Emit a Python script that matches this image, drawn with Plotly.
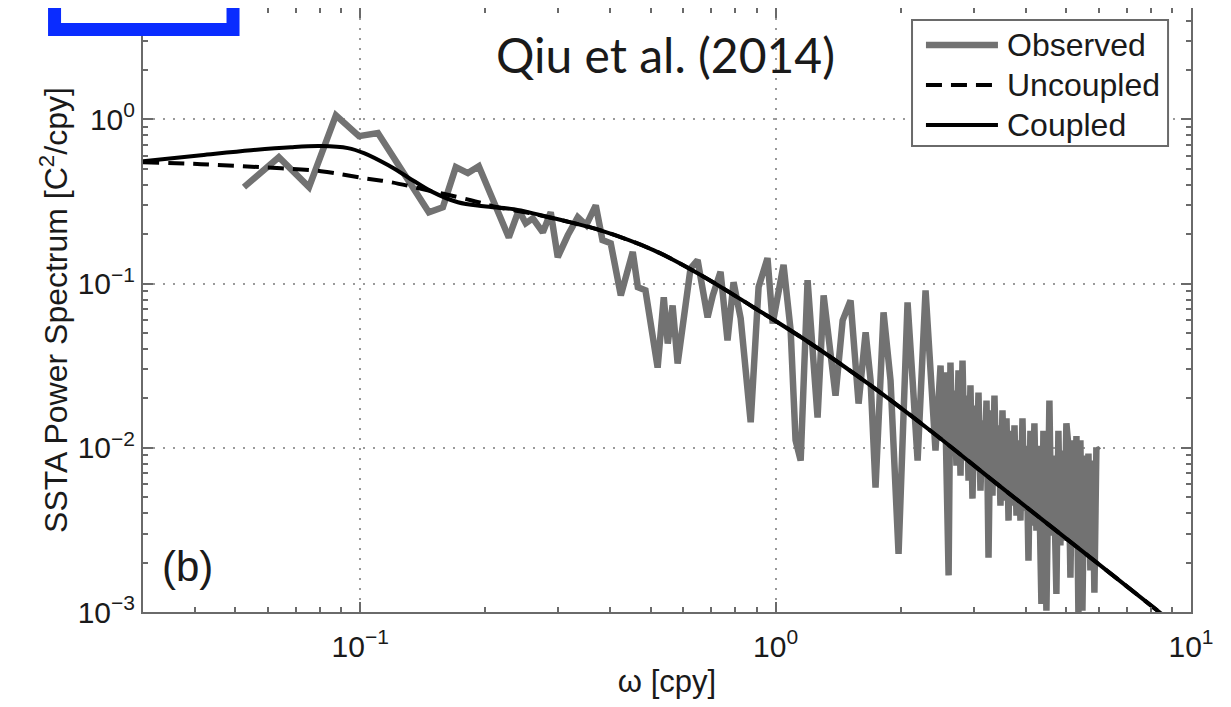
import plotly.graph_objects as go

# ---------------- data ----------------
obs_freq = [0.0525, 0.0637, 0.0753, 0.0874, 0.0993, 0.1103, 0.1463, 0.1581, 0.1699, 0.1816,
            0.1930, 0.2279, 0.2408, 0.2503, 0.2603, 0.2752, 0.2875, 0.2989, 0.316, 0.334,
            0.350, 0.369, 0.383, 0.401, 0.424, 0.453, 0.466, 0.486, 0.520, 0.538,
            0.550, 0.565, 0.581, 0.601, 0.624, 0.649, 0.686, 0.706, 0.737, 0.766,
            0.792, 0.824, 0.871, 0.910, 0.956, 0.984, 1.017, 1.045, 1.087, 1.117,
            1.149, 1.194, 1.228, 1.262, 1.305, 1.341, 1.394, 1.450, 1.515, 1.584,
            1.647, 1.693, 1.740, 1.819, 1.891, 1.977, 2.078, 2.137, 2.197, 2.296,
            2.360, 2.426,
            2.495, 2.523, 2.551, 2.580, 2.609, 2.636, 2.666, 2.695, 2.725, 2.756,
            2.787, 2.818, 2.850, 2.882, 2.914, 2.945, 2.978, 3.011, 3.045, 3.079,
            3.113, 3.148, 3.183, 3.219, 3.255, 3.290, 3.327, 3.364, 3.402, 3.440,
            3.478, 3.517, 3.556, 3.596, 3.637, 3.676, 3.717, 3.759, 3.801, 3.843,
            3.885, 3.929, 3.972, 4.017, 4.062, 4.106, 4.152, 4.198, 4.245, 4.293,
            4.364, 4.413, 4.487, 4.562, 4.613, 4.664, 4.742, 4.795, 4.848, 4.902,
            4.957, 5.012, 5.068, 5.125, 5.182, 5.240, 5.299, 5.357, 5.417, 5.478,
            5.539, 5.601, 5.664, 5.725, 5.789, 5.854, 5.919, 6.0]
obs_power = [0.387, 0.589, 0.387, 1.06, 0.791, 0.826, 0.272, 0.292, 0.512, 0.471,
             0.519, 0.191, 0.280, 0.233, 0.250, 0.205, 0.272, 0.145, 0.197, 0.254,
             0.227, 0.300, 0.184, 0.176, 0.0848, 0.156, 0.0952, 0.091, 0.0308, 0.0825,
             0.0432, 0.0736, 0.0326, 0.0640, 0.124, 0.139, 0.0623, 0.0848, 0.118, 0.0451,
             0.102, 0.0614, 0.0143, 0.0952, 0.143, 0.0572, 0.091, 0.130, 0.0519, 0.0111,
             0.00836, 0.105, 0.0392, 0.0153, 0.0848, 0.0451, 0.0208, 0.0597, 0.079, 0.0186,
             0.0505, 0.0257, 0.00572, 0.0668, 0.0257, 0.00226, 0.0768, 0.0257, 0.00836, 0.091,
             0.0257, 0.00962,
             0.0317, 0.0111, 0.0288, 0.00726, 0.00167, 0.0331, 0.00897, 0.0223, 0.00779, 0.0296,
             0.00677, 0.0340, 0.00836, 0.0208, 0.00631, 0.0240, 0.00490, 0.0181, 0.00726, 0.0217,
             0.00548, 0.0147, 0.00726, 0.0194, 0.00214, 0.0169, 0.00511, 0.0208, 0.00588, 0.0137,
             0.00444, 0.0169, 0.00476, 0.0151, 0.00360, 0.0127, 0.00444, 0.0137, 0.00386, 0.0111,
             0.00360, 0.0151, 0.00414, 0.0103, 0.00205, 0.0127, 0.00336, 0.0141, 0.00313, 0.0103,
             0.00112, 0.0127, 0.00102, 0.0194, 0.00292, 0.00897, 0.00129, 0.0127, 0.00254, 0.00962,
             0.00272, 0.0141, 0.0103, 0.00162, 0.0111, 0.00254, 0.0118, 0.00099, 0.0111, 0.00102,
             0.00897, 0.00220, 0.00922, 0.00179, 0.00836, 0.00131, 0.00992, 0.00962]

unc_freq = [0.03, 0.0414, 0.0577, 0.0804, 0.1021, 0.1185, 0.1377, 0.1846, 0.2144, 0.2574,
            0.321, 0.379, 0.508, 0.660, 0.886, 1.214, 1.693, 2.360, 3.478, 6.396, 8.43, 10.0]
unc_power = [0.549, 0.534, 0.512, 0.484, 0.439, 0.415, 0.382, 0.322, 0.292, 0.268,
             0.236, 0.211, 0.160, 0.113, 0.0716, 0.0432, 0.0240, 0.0127, 0.00580, 0.00172,
             0.00099, 0.00071]

cpl_freq = [0.03, 0.0414, 0.0546, 0.0681, 0.0804, 0.0934, 0.1021, 0.1166, 0.1302, 0.1479,
            0.1718, 0.1984, 0.2343, 0.2721, 0.321, 0.379, 0.508, 0.660, 0.886, 1.214,
            1.693, 2.360, 3.478, 6.396, 8.43, 10.0]
cpl_power = [0.557, 0.606, 0.650, 0.678, 0.688, 0.669, 0.623, 0.527, 0.445, 0.366,
             0.313, 0.296, 0.284, 0.261, 0.236, 0.211, 0.160, 0.113, 0.0716, 0.0432,
             0.0240, 0.0127, 0.00580, 0.00172, 0.00099, 0.00071]

series_names = ["Observed", "Uncoupled", "Coupled"]

x_tickvals = [0.1, 1, 10]
x_ticktext = ["10<sup>\u22121</sup>", "10<sup>0</sup>", "10<sup>1</sup>"]
y_tickvals = [0.001, 0.01, 0.1, 1]
y_ticktext = ["10<sup>\u22123</sup>", "10<sup>\u22122</sup>", "10<sup>\u22121</sup>", "10<sup>0</sup>"]
x_minor = [0.04, 0.05, 0.06, 0.07, 0.08, 0.09, 0.2, 0.3, 0.4, 0.5, 0.6, 0.7, 0.8, 0.9,
           2, 3, 4, 5, 6, 7, 8, 9]
y_minor = [0.002, 0.003, 0.004, 0.005, 0.006, 0.007, 0.008, 0.009,
           0.02, 0.03, 0.04, 0.05, 0.06, 0.07, 0.08, 0.09,
           0.2, 0.3, 0.4, 0.5, 0.6, 0.7, 0.8, 0.9, 2, 3, 4]

# ---------------- styles ----------------
FONT = "Liberation Sans, Arial, Helvetica, sans-serif"
TXT = "#1a1a1a"
AXC = "#6a6a6a"
OBS_C = "#727272"
DASH = "16px,9px"
line_styles = [
    dict(color=OBS_C, width=6.5),
    dict(color="black", width=4, dash=DASH),
    dict(color="black", width=4),
]

fig = go.Figure()
fig.add_trace(go.Scatter(x=obs_freq, y=obs_power, mode="lines", name=series_names[0],
                         line=line_styles[0], showlegend=False))
fig.add_trace(go.Scatter(x=unc_freq, y=unc_power, mode="lines", name=series_names[1],
                         line=dict(**line_styles[1], shape="spline", smoothing=1),
                         showlegend=False))
fig.add_trace(go.Scatter(x=cpl_freq, y=cpl_power, mode="lines", name=series_names[2],
                         line=dict(**line_styles[2], shape="spline", smoothing=1),
                         showlegend=False))

axis_common = dict(
    type="log", showline=True, linecolor=AXC, linewidth=2, mirror="allticks",
    ticks="inside", ticklen=10, tickwidth=1.5, tickcolor=AXC,
    showgrid=True, gridcolor="#9a9a9a", griddash="2px,8px", gridwidth=1.5,
    zeroline=False, tickmode="array", automargin=False,
    tickfont=dict(family=FONT, size=30, color=TXT),
)

fig.update_xaxes(
    **axis_common, range=[-1.5229, 1], tickvals=x_tickvals, ticktext=x_ticktext,
    ticklabelstandoff=7,
    minor=dict(tickmode="array", tickvals=x_minor, ticks="inside", ticklen=5,
               tickwidth=1.5, tickcolor=AXC, showgrid=False),
    title=dict(text="\u03c9 [cpy]", font=dict(family=FONT, size=31, color=TXT),
               standoff=8),
)
fig.update_yaxes(
    **axis_common, range=[-3, 0.6787], tickvals=y_tickvals, ticktext=y_ticktext,
    minor=dict(tickmode="array", tickvals=y_minor, ticks="inside", ticklen=5,
               tickwidth=1.5, tickcolor=AXC, showgrid=False),
    title=dict(text="SSTA Power Spectrum [C<sup>2</sup>/cpy]",
               font=dict(family=FONT, size=32, color=TXT), standoff=0),
)

# ---------------- custom legend (paper coordinates) ----------------
leg_box = dict(x0=0.7338, x1=0.9781, y0=0.7714, y1=0.9802)
leg_rows_y = [0.9387, 0.8724, 0.8062]
leg_line_x = (0.7471, 0.8158)
leg_text_x = 0.8225

shapes = [
    dict(type="rect", xref="paper", yref="paper", **leg_box,
         line=dict(color=AXC, width=2), fillcolor="white", layer="above"),
]
annotations = []
for name, st, yy in zip(series_names, line_styles, leg_rows_y):
    shapes.append(dict(type="line", xref="paper", yref="paper",
                       x0=leg_line_x[0], x1=leg_line_x[1], y0=yy, y1=yy,
                       line=st, layer="above"))
    annotations.append(dict(text=name, x=leg_text_x, y=yy, xref="paper", yref="paper",
                            showarrow=False, xanchor="left", yanchor="middle",
                            font=dict(family=FONT, size=32, color=TXT)))

annotations += [
    dict(text="Qiu et al. (2014)", x=0.499, y=0.9222, xref="paper", yref="paper",
         showarrow=False, xanchor="center", yanchor="middle",
         font=dict(family="Lato, Open Sans, sans-serif", size=48, color=TXT)),
    dict(text="(b)", x=0.0162, y=0.0757, xref="paper", yref="paper",
         showarrow=False, xanchor="left", yanchor="middle",
         font=dict(family=FONT, size=42, color=TXT)),
]
shapes.append(
    dict(type="rect", xref="paper", yref="paper",
         x0=-0.0844, x1=0.0859, y0=0.9644, y1=1.08,
         line=dict(color="#0a2cff", width=13), fillcolor="white", layer="above"))

fig.update_layout(
    width=1231, height=707,
    margin=dict(l=135, r=48, t=0, b=103, autoexpand=False),
    paper_bgcolor="white", plot_bgcolor="white",
    showlegend=False,
    annotations=annotations,
    shapes=shapes,
)

fig.write_html("out.html")
